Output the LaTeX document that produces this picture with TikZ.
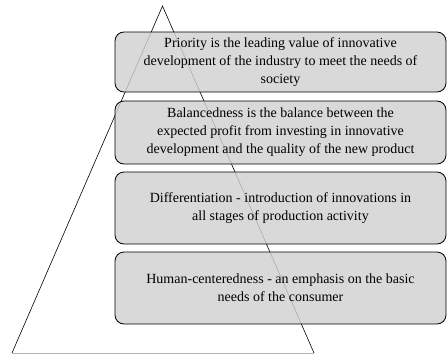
\documentclass[tikz,border=0pt]{standalone}
\usepackage{fontspec}
\setmainfont{Liberation Serif}
\usepackage{tikz}
\usetikzlibrary{positioning}

\begin{document}
\begin{tikzpicture}[x=1pt, y=-1pt,
	level/.style={draw, thick, rounded corners=9pt, fill=gray!36, fill opacity=0.82, text opacity=1,
		minimum width=331pt, align=center, font=\fontsize{14}{18}\selectfont, inner sep=0pt}]
			%\draw[help lines] (0,0) grid (447,356);
			\useasboundingbox (0,0) rectangle (447,356);
			\coordinate (top) at (162.5,6);
			\coordinate (left) at (12,353);
			\coordinate (right) at (314,353);
			\draw[semithick] (left) -- (top) -- (right);
			\draw[semithick, gray!60] (left) -- (right);

			\node[level, minimum height=60pt] (priority) at (280.5,62) {Priority is the leading value of innovative\\development of the industry to meet the needs of\\society};
			\node[level, minimum height=63pt] (balance) at (280.5,132.5) {Balancedness is the balance between the\\expected profit from investing in innovative\\development and the quality of the new product};
			\node[level, minimum height=72pt] (diff) at (280.5,208) {Differentiation - introduction of innovations in\\all stages of production activity};
			\node[level, minimum height=72pt] (human) at (280.5,288) {Human-centeredness - an emphasis on the basic\\needs of the consumer};
		\end{tikzpicture}
\end{document}
